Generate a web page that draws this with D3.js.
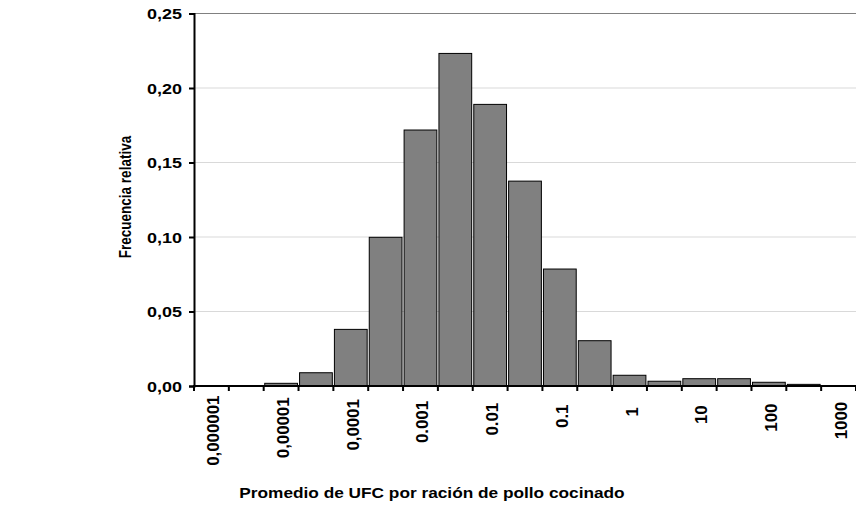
<!DOCTYPE html>
<html>
<head>
<meta charset="utf-8">
<script src="https://cdn.jsdelivr.net/npm/d3@7/dist/d3.min.js"></script>
<style>
    body { margin: 0; background: #fff; }
    svg { display: block; }
    text { font-family: "Liberation Sans", Arial, sans-serif; font-weight: bold; fill: #000; }
</style>
</head>
<body>
<svg id="chart" width="856" height="510"></svg>
<script>
// histogram bins (half decade each) and their relative frequency
var bins = d3.range(19);
var binLabels = ['0,000001', '', '0,00001', '', '0,0001', '', '0.001', '', '0.01', '',
                 '0.1', '', '1', '', '10', '', '100', '', '1000'];
var freq = [0, 0, 0.0018, 0.0089, 0.038, 0.0998, 0.1718, 0.2232, 0.189, 0.1375,
            0.0785, 0.0304, 0.0072, 0.0032, 0.0049, 0.0049, 0.0025, 0.0011, 0];
var yTicks = [0, 0.05, 0.10, 0.15, 0.20, 0.25];

var margin = {top: 13.5, right: 0, bottom: 124, left: 194};
var width = 856, height = 510;

var svg = d3.select('svg#chart');

var x = d3.scaleBand()
    .domain(bins)
    .range([margin.left, width - margin.right])
    .paddingInner(0.06)
    .paddingOuter(0.03);

var y = d3.scaleLinear()
    .domain([0, 0.25])
    .range([height - margin.bottom, margin.top]);

var fmt = function(v) { return d3.format('.2f')(v).replace('.', ','); };

/**
 * Widen text along its run, the reference glyphs are stretched.
 */
function stretch(sel, factor) {
    sel.each(function() {
        var w = this.getComputedTextLength();
        d3.select(this).attr('textLength', w * factor).attr('lengthAdjust', 'spacingAndGlyphs');
    });
}

// gridlines
svg.append('g')
    .selectAll('line')
    .data(yTicks.filter(function(d) { return d > 0; }))
    .enter().append('line')
        .attr('x1', margin.left)
        .attr('x2', width - margin.right)
        .attr('y1', function(d) { return y(d); })
        .attr('y2', function(d) { return y(d); })
        .attr('stroke', function(d) { return d === 0.25 ? '#808080' : '#d9d9d9'; })
        .attr('stroke-width', 1);

// bars
svg.append('g')
    .selectAll('rect')
    .data(bins.filter(function(i) { return freq[i] > 0; }))
    .enter().append('rect')
        .attr('x', function(i) { return x(i); })
        .attr('y', function(i) { return y(freq[i]); })
        .attr('width', x.bandwidth())
        .attr('height', function(i) { return y(0) - y(freq[i]); })
        .attr('fill', '#808080')
        .attr('stroke', '#000')
        .attr('stroke-width', 1);

// y axis
var yAxis = svg.append('g')
    .attr('transform', 'translate(' + margin.left + ',0)')
    .call(d3.axisLeft(y).tickValues(yTicks).tickFormat(fmt).tickSize(5).tickPadding(7));
yAxis.select('.domain').attr('stroke', '#000').attr('stroke-width', 2);
yAxis.selectAll('.tick line').attr('stroke', '#000').attr('stroke-width', 2);
yAxis.selectAll('.tick text')
    .style('font-size', '14.5px')
    .attr('fill', '#000')
    .attr('dy', '0.36em')
    .call(stretch, 1.24);

// x axis with ticks on every bin boundary
var step = x.step();
var edges = d3.range(bins.length + 1).map(function(i) { return margin.left + i * step; });
var xAxis = svg.append('g');
xAxis.append('line')
    .attr('x1', margin.left - 1)
    .attr('x2', width)
    .attr('y1', y(0))
    .attr('y2', y(0))
    .attr('stroke', '#000')
    .attr('stroke-width', 2);
xAxis.selectAll('.xtick')
    .data(edges)
    .enter().append('line')
        .attr('class', 'xtick')
        .attr('x1', function(d) { return d; })
        .attr('x2', function(d) { return d; })
        .attr('y1', y(0) - 1)
        .attr('y2', y(0) + 5)
        .attr('stroke', '#000')
        .attr('stroke-width', 2);

xAxis.selectAll('.xlabel')
    .data(bins.filter(function(i) { return binLabels[i] !== ''; }))
    .enter().append('text')
        .attr('class', 'xlabel')
        .style('font-size', '15px')
        .attr('fill', '#000')
        .attr('text-anchor', 'end')
        .text(function(i) { return binLabels[i]; })
        .call(stretch, 1.12)
        .attr('transform', function(i) {
            var w = +d3.select(this).attr('textLength');
            var cx = x(i) + x.bandwidth() / 2 + 8;
            var top = y(0) + 23 - 0.19 * w;
            return 'translate(' + cx + ',' + top + ') rotate(-90) scale(1,1.08)';
        });

// axis titles
svg.append('text')
    .attr('x', 432)
    .attr('y', 498)
    .attr('text-anchor', 'middle')
    .attr('fill', '#000')
    .style('font-size', '15px')
    .text('Promedio de UFC por ración de pollo cocinado')
    .call(stretch, 1.15);

svg.append('text')
    .attr('transform', 'translate(131,197) rotate(-90) scale(1,1.2)')
    .attr('text-anchor', 'middle')
    .attr('fill', '#000')
    .style('font-size', '13.5px')
    .text('Frecuencia relativa');
</script>
</body>
</html>
